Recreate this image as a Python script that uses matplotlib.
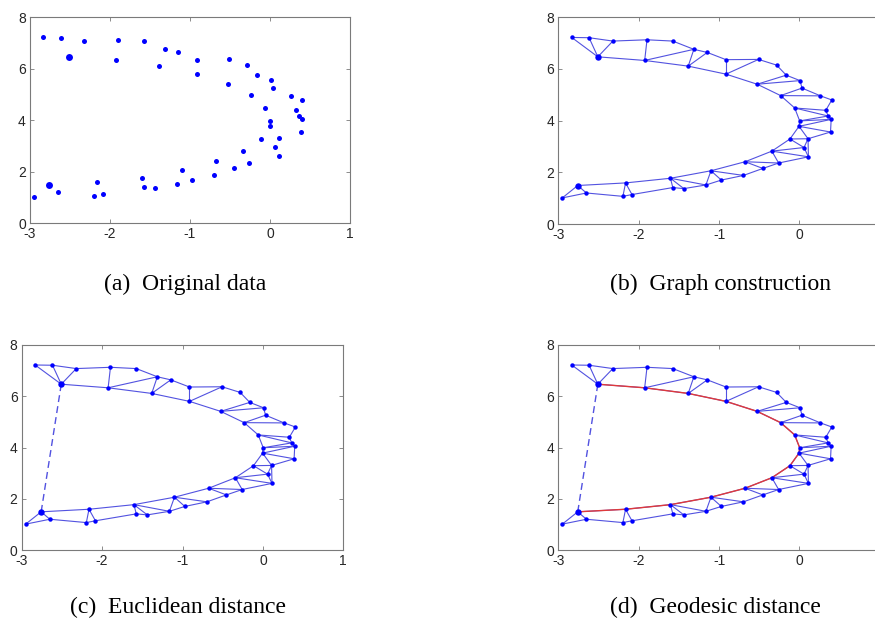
import matplotlib
matplotlib.use("Agg")
import matplotlib.pyplot as plt
import numpy as np

# ---- data ----
px = [-2.833, -2.617, -2.321, -2.508, -1.896, -1.925, -1.575, -1.313, -1.146, -1.383,
      -0.913, -0.913, -0.508, -0.283, -0.525, -0.163, 0.008, 0.033, -0.233, 0.263,
      0.404, -0.058, 0.329, 0.358, 0.396, 0.004, -0.004, 0.388, -0.117, 0.108,
      0.058, 0.113, -0.342, -0.258, -0.675, -0.454, -0.696, -1.100, -0.971, -1.163,
      -1.604, -1.575, -1.438, -2.163, -2.196, -2.083, -2.758, -2.650, -2.950]
py = [7.22, 7.21, 7.08, 6.47, 7.13, 6.33, 7.08, 6.76, 6.64, 6.11,
      6.36, 5.80, 6.37, 6.15, 5.41, 5.76, 5.55, 5.26, 4.97, 4.96,
      4.80, 4.49, 4.40, 4.18, 4.05, 3.99, 3.78, 3.56, 3.29, 3.30,
      2.96, 2.60, 2.82, 2.36, 2.41, 2.15, 1.88, 2.06, 1.70, 1.51,
      1.77, 1.41, 1.37, 1.59, 1.07, 1.14, 1.49, 1.20, 1.01]

# neighbourhood graph edges (1-based point indices)
edges = [(1, 2), (1, 4), (2, 4), (2, 3), (3, 4), (3, 5), (4, 6), (5, 6), (5, 7), (7, 8),
         (6, 8), (6, 10), (8, 10), (8, 9), (9, 10), (9, 11), (10, 12), (11, 12), (11, 13),
         (12, 13), (12, 15), (13, 14), (14, 16), (15, 16), (15, 17), (16, 17), (15, 19),
         (17, 18), (18, 19), (18, 20), (19, 20), (20, 21), (19, 22), (21, 23), (22, 23),
         (22, 24), (22, 26), (23, 24), (24, 25), (26, 24), (26, 25), (26, 27), (27, 25),
         (27, 28), (25, 28), (27, 29), (27, 30), (29, 30), (28, 30), (29, 31), (30, 31),
         (30, 32), (31, 32), (29, 33), (33, 31), (33, 32), (33, 34), (32, 34), (33, 35),
         (34, 35), (35, 36), (34, 36), (35, 38), (36, 37), (37, 38), (37, 39), (38, 39),
         (38, 40), (39, 40), (38, 41), (40, 41), (41, 42), (41, 43), (42, 43), (40, 43),
         (41, 44), (44, 45), (44, 46), (45, 46), (42, 46), (44, 47), (47, 48), (47, 49),
         (48, 49), (45, 48)]

# endpoints of the highlighted pair and the geodesic path (1-based)
endpoints = [4, 47]
geodesic = [4, 6, 10, 12, 15, 19, 22, 26, 27, 29, 33, 35, 38, 41, 44, 47]

captions = ["(a)  Original data", "(b)  Graph construction",
            "(c)  Euclidean distance", "(d)  Geodesic distance"]
xticks = [-3, -2, -1, 0, 1]
yticks = [0, 2, 4, 6, 8]

# ---- figure ----
W, H = 875, 621
fig = plt.figure(figsize=(W / 100, H / 100), dpi=100)

def rect(l, r, t, b):
    return [l / W, 1 - b / H, (r - l) / W, (b - t) / H]

rects = [rect(30, 350, 17.3, 223.3),
         rect(558.3, 879.7, 17.3, 224),
         rect(21.7, 343.3, 345, 550),
         rect(558.3, 879.7, 345, 550)]
cap_pos = [(185, 284), (721, 284), (178, 607), (715, 607)]
clipped_right = [False, True, False, True]

x = np.array(px)
y = np.array(py)
blue = '#0000ff'
edge_col = (0.32, 0.32, 0.88)
spine_col = '#7a7a7a'
text_col = '#262626'

for k, r in enumerate(rects):
    ax = fig.add_axes(r)
    ax.set_xlim(-3, 1)
    ax.set_ylim(0, 8)
    ax.set_xticks(xticks)
    ax.set_yticks(yticks)
    xl = [str(v) for v in xticks]
    if clipped_right[k]:
        xl[-1] = ''  # falls outside the picture in the reference
    ax.set_xticklabels(xl)
    ax.set_yticklabels([str(v) for v in yticks])
    ax.tick_params(direction='in', length=3, width=0.6, colors=spine_col,
                   labelcolor=text_col, labelsize=10, top=True, right=True, pad=3)
    for lab in ax.get_xticklabels() + ax.get_yticklabels():
        lab.set_family('Liberation Sans')
    for s in ax.spines.values():
        s.set_color(spine_col)
        s.set_linewidth(0.8)

    big = [i - 1 for i in endpoints]
    if k == 0:
        ax.plot(x, y, 'o', color=blue, markersize=3.6, markeredgewidth=0)
        ax.plot(x[big], y[big], 'o', color=blue, markersize=5, markeredgewidth=0)
    else:
        for a, b in edges:
            ax.plot([x[a - 1], x[b - 1]], [y[a - 1], y[b - 1]], '-',
                    color=edge_col, lw=0.8, zorder=2)
        if k >= 2:
            ax.plot(x[big], y[big], '--', color=edge_col, lw=1.0,
                    dashes=(5, 3), zorder=2)
        if k == 3:
            g = [i - 1 for i in geodesic]
            ax.plot(x[g], y[g], '-', color='#e03a3a', lw=1.0, zorder=3)
        ax.plot(x, y, 'o', color=blue, markersize=3.2, markeredgewidth=0, zorder=4)
        ax.plot(x[big], y[big], 'o', color=blue, markersize=4.6, markeredgewidth=0, zorder=4)

    cx, cy = cap_pos[k]
    fig.text(cx / W, 1 - cy / H, captions[k], ha='center', va='center',
             fontsize=17, family='Liberation Serif', color='black')

fig.savefig('out.png', dpi=100)
